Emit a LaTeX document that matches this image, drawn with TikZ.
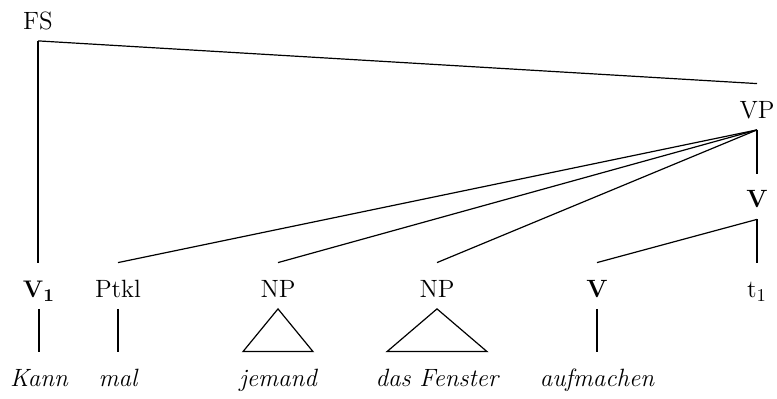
\documentclass[tikz,border=0pt]{standalone}
\usetikzlibrary{calc}
\begin{document}
\begin{tikzpicture}[x=0.5pt,y=-0.5pt,
  lbl/.style={inner sep=0pt,anchor=base,text height=17.5pt,text depth=5.25pt,font=\fontsize{12.5}{14}\selectfont},
  wrd/.style={lbl,font=\fontsize{12.5}{14}\selectfont\itshape},
  edge/.style={line width=0.6pt}]
\useasboundingbox (0,0) rectangle (777,399);
\node[lbl] (FS) at (38,30) {FS};
\node[lbl] (VP) at (757,119) {VP};
\node[lbl,text depth=5.5pt,text height=17pt] (Vm) at (757,208) {\textbf{V}};
\node[lbl] (V1) at (39,298) {$\mathbf{V}_{\mathbf{1}}$};
\node[lbl] (Pt) at (118,298) {Ptkl};
\node[lbl] (NPa) at (278,298) {NP};
\node[lbl] (NPb) at (437,298) {NP};
\node[lbl] (Vb) at (597,298) {\textbf{V}};
\node[lbl] (t) at (757,298) {t$_1$};
\node[wrd] (w1) at (39,387) {Kann};
\node[wrd] (w2) at (118,387) {mal};
\node[wrd] (w3) at (278,387) {jemand};
\node[wrd] (w4) at (437,387) {das Fenster};
\node[wrd] (w5) at (597,387) {aufmachen};
\draw[edge] (FS.south) |- (V1.north);
\draw[edge] (FS.south) -- (VP.north);
\draw[edge] (VP.south) -- (Pt.north);
\draw[edge] (VP.south) -- (NPa.north);
\draw[edge] (VP.south) -- (NPb.north);
\draw[edge] (VP.south) -- (Vm.north);
\draw[edge] (Vm.south) -- (Vb.north);
\draw[edge] (Vm.south) -- (t.north);
\draw[edge] (V1.south) -- (w1.north);
\draw[edge] (Pt.south) -- (w2.north);
\draw[edge] (Vb.south) -- (w5.north);
\draw[edge] (NPa.south) -- ($(w3.north)+(-35,0)$) -- ($(w3.north)+(35,0)$) -- cycle;
\draw[edge] (NPb.south) -- ($(w4.north)+(-50,0)$) -- ($(w4.north)+(50,0)$) -- cycle;
\end{tikzpicture}
\end{document}
